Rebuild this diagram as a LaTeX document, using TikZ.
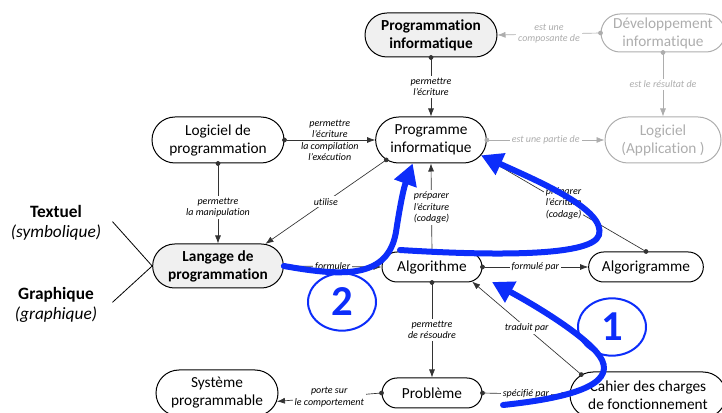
\documentclass[tikz,border=0pt]{standalone}
\usepackage{fontspec}
\setmainfont{Carlito}[Ligatures={TeX,NoCommon}]
\usetikzlibrary{arrows.meta,shapes.misc,shapes.geometric}

\definecolor{shade}{gray}{0.94}
\definecolor{faded}{gray}{0.68}
\definecolor{wire}{gray}{0.2}
\definecolor{pen}{RGB}{12,45,250}

\begin{document}
\begin{tikzpicture}[x=0.75pt, y=-0.75pt, >={Latex[length=6pt,width=4.5pt]},
    box/.style={rounded rectangle, draw, line width=0.75pt, inner sep=0pt, align=center,
                font=\fontsize{11.5}{13.5}\selectfont},
    keybox/.style={box, fill=shade, font=\fontsize{11.5}{13.5}\selectfont\bfseries},
    oldbox/.style={box, draw=faded, text=faded},
    lbl/.style={fill=white, inner sep=1.5pt, align=center, font=\fontsize{7.5}{8.4}\selectfont\itshape},
    oldlbl/.style={lbl, text=faded},
    rel/.style={draw=wire, line width=0.5pt, {Circle[length=3.5pt]}->, shorten <=-1.75pt},
    oldrel/.style={rel, draw=faded},
    stroke/.style={draw=pen, line width=4.5pt, line cap=round, -{Triangle[length=16pt,width=17pt]}},
    badge/.style={ellipse, draw=pen, line width=1.5pt, text=pen, inner sep=0pt,
                  minimum width=51pt, minimum height=43pt, font=\fontsize{32}{32}\selectfont\bfseries}]
    \useasboundingbox (0,0) rectangle (722,413);

    % concepts
    \node[keybox, minimum width=99pt, minimum height=33pt] (proginfo) at (431,35) {Programmation\\informatique};
    \node[oldbox, minimum width=93pt, minimum height=28.5pt] (dev) at (663,33) {Développement\\informatique};
    \node[box, minimum width=83pt, minimum height=34.5pt] (prog) at (431,140) {Programme\\informatique};
    \node[oldbox, minimum width=87pt, minimum height=34.5pt] (logapp) at (663,140) {Logiciel\\(Application )};
    \node[box, minimum width=99pt, minimum height=34.5pt] (logprog) at (218,140) {Logiciel de\\programmation};
    \node[keybox, minimum width=98pt, minimum height=33pt] (lang) at (218,266) {Langage de\\programmation};
    \node[box, minimum width=75pt, minimum height=22.5pt] (algo) at (432,267) {Algorithme};
    \node[box, minimum width=86pt, minimum height=22.5pt] (algorig) at (646,267) {Algorigramme};
    \node[box, minimum width=75pt, minimum height=22.5pt] (prob) at (432,393) {Problème};
    \node[box, minimum width=117pt, minimum height=34.5pt] (cahier) at (648,395) {Cahier des charges\\de fonctionnement};
    \node[box, minimum width=91.5pt, minimum height=34.5pt] (sys) at (217,393) {Système\\programmable};

    % two kinds of language
    \node[align=center, font=\fontsize{13}{15}\selectfont] (txt) at (56,223) {\textbf{Textuel}\\\textit{(symbolique)}};
    \node[align=center, font=\fontsize{13}{15}\selectfont] (gra) at (56,305) {\textbf{Graphique}\\\textit{(graphique)}};
    \draw[line width=0.6pt] ([shift={(5pt,1pt)}]txt.east) -- (lang.west);
    \draw[line width=0.6pt] ([shift={(8pt,2pt)}]gra.east) -- (lang.west);

    % relations
    \draw[oldrel] (dev.west) -- node[oldlbl] {est une\\composante de} (proginfo.east);
    \draw[oldrel] (dev.south) -- node[oldlbl] {est le résultat de} (logapp.north);
    \draw[oldrel] (prog.east) -- node[oldlbl] {est une partie de} (logapp.west);
    \draw[rel] (proginfo.south) -- node[lbl] {permettre\\l'écriture} (prog.north);
    \draw[rel] (logprog.east) -- node[lbl, fill=none, above=0pt] {permettre\\l'écriture}
        node[lbl, fill=none, below=0pt] {la compilation\\l'exécution} (prog.west);
    \draw[rel] (logprog.south) -- node[lbl, pos=0.55] {permettre\\la manipulation} (lang.north);
    \draw[rel] (prog.204) -- node[lbl] {utilise} (lang.25);
    \draw[rel] (lang.east) -- node[lbl] {formuler} (algo.west);
    \draw[rel] (algo.east) -- node[lbl] {formulé par} (algorig.west);
    \draw[rel] (algo.north) -- node[lbl] {préparer\\l'écriture\\(codage)} (prog.south);
    \draw[rel] (algorig.north) -- node[lbl] {préparer\\l'écriture\\(codage)} (prog.-17);
    \draw[rel] (algo.south) -- node[lbl] {permettre\\de résoudre} (prob.north);
    \draw[rel] (prob.west) -- node[lbl] {porte sur\\le comportement} (sys.-8);
    \draw[rel] (prob.east) -- node[lbl] {spécifié par} (cahier.west);
    \draw[rel] (cahier.163) -- node[lbl] {traduit par} (algo.-20);

    % blue annotations
    \node[badge] (two) at (342,302) {2};
    \node[badge] (one) at (612,327) {1};
    \coordinate (bend) at (400,250);
    \coordinate (tail) at (503,405);
    \coordinate (aim) at (492,282);
    \draw[stroke] (lang.east) .. controls (345,277) and (388,278) .. (396,232)
        .. controls (399,212) and (403,190) .. (prog.-128);
    \draw[stroke] (bend) .. controls (480,255) and (592,258) .. (599,235)
        .. controls (606,210) and (540,182) .. (prog.-17);
    \draw[stroke] (tail) .. controls (570,398) and (614,385) .. (602,360)
        .. controls (592,340) and (540,308) .. (aim);
\end{tikzpicture}
\end{document}
